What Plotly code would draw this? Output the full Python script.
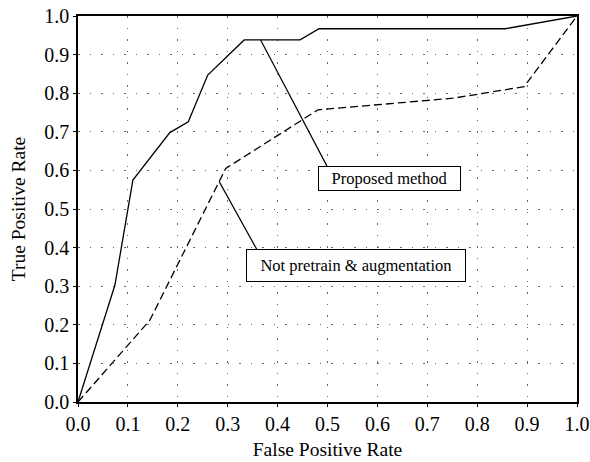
import plotly.graph_objects as go

# Proposed method ROC
fpr_proposed = [0.0, 0.074, 0.11, 0.184, 0.221, 0.26, 0.333, 0.445, 0.483, 0.856, 1.0]
tpr_proposed = [0.0, 0.303, 0.575, 0.698, 0.726, 0.847, 0.938, 0.938, 0.967, 0.967, 1.0]

# Not pretrain & augmentation ROC
fpr_baseline = [0.0, 0.144, 0.296, 0.481, 0.752, 0.894, 1.0]
tpr_baseline = [0.0, 0.212, 0.605, 0.757, 0.787, 0.817, 1.0]

tick_vals = [i / 10 for i in range(11)]
tick_text = [f"{v:.1f}" for v in tick_vals]

FONT = "Liberation Serif, Times New Roman, serif"

fig = go.Figure()
fig.add_trace(go.Scatter(x=fpr_proposed, y=tpr_proposed, mode="lines",
                         line=dict(color="black", width=1.3), name="Proposed method",
                         showlegend=False))
fig.add_trace(go.Scatter(x=fpr_baseline, y=tpr_baseline, mode="lines",
                         line=dict(color="black", width=1.3, dash="8px,4px"),
                         name="Not pretrain & augmentation", showlegend=False))

# annotation boxes
fig.add_annotation(x=0.624, y=0.579, xref="x", yref="y", text="Proposed method",
                   showarrow=False, font=dict(family=FONT, size=16.5, color="black"),
                   bordercolor="black", borderwidth=1, borderpad=0, bgcolor="white",
                   width=141, height=23)
fig.add_annotation(x=0.557, y=0.354, xref="x", yref="y", text="Not pretrain & augmentation",
                   showarrow=False, font=dict(family=FONT, size=16.5, color="black"),
                   bordercolor="black", borderwidth=1, borderpad=0, bgcolor="white",
                   width=218, height=31)
# leader lines
fig.add_shape(type="line", xref="x", yref="y", x0=0.366, y0=0.938, x1=0.499, y1=0.611,
              line=dict(color="black", width=1.2))
fig.add_shape(type="line", xref="x", yref="y", x0=0.283, y0=0.571, x1=0.358, y1=0.396,
              line=dict(color="black", width=1.2))

axis_common = dict(range=[0, 1], tickvals=tick_vals, ticktext=tick_text,
                   showline=True, linecolor="black", linewidth=1.5, mirror=True,
                   ticks="outside", ticklen=3, tickcolor="black",
                   showgrid=True, gridcolor="#666666", gridwidth=1.2,
                   griddash="1.5px,10px", zeroline=False, automargin=False,
                   ticklabeloverflow="allow",
                   tickfont=dict(family=FONT, size=20, color="black"))

fig.update_xaxes(**axis_common, title=dict(text="False Positive Rate",
                 font=dict(family=FONT, size=19.5, color="black"), standoff=9))
fig.update_yaxes(**axis_common, title=dict(text="True Positive Rate",
                 font=dict(family=FONT, size=19.5, color="black"), standoff=13))

fig.update_layout(width=590, height=462, margin=dict(l=78, r=13, t=16, b=60, autoexpand=False),
                  plot_bgcolor="white", paper_bgcolor="white",
                  font=dict(family=FONT, color="black"))

# remove the default 8px page margin so the figure sits at the window's corner
fig.write_html("out.html", config={"displayModeBar": False},
               post_script="document.body.style.margin='0';")
